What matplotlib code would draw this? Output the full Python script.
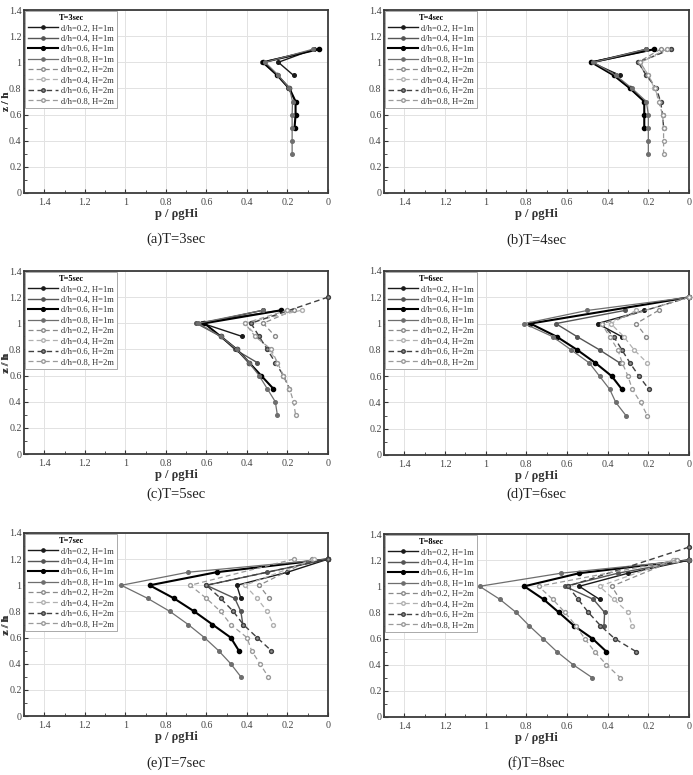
import matplotlib
matplotlib.use("Agg")
import matplotlib.pyplot as plt
from matplotlib.ticker import MultipleLocator, FuncFormatter

plt.rcParams['font.family'] = ['Liberation Serif', 'DejaVu Serif']

# ---------------- data ----------------
series_labels = ["d/h=0.2, H=1m", "d/h=0.4, H=1m", "d/h=0.6, H=1m", "d/h=0.8, H=1m",
                 "d/h=0.2, H=2m", "d/h=0.4, H=2m", "d/h=0.6, H=2m", "d/h=0.8, H=2m"]
panel_titles = ["T=3sec", "T=4sec", "T=5sec", "T=6sec", "T=7sec", "T=8sec"]
captions = ["(a)T=3sec", "(b)T=4sec", "(c)T=5sec", "(d)T=6sec", "(e)T=7sec", "(f)T=8sec"]

Z2 = [1.1, 1.0, 0.9]
Z4 = [1.1, 1.0, 0.9, 0.8, 0.7]
Z6 = [1.1, 1.0, 0.9, 0.8, 0.7, 0.6, 0.5]
Z8 = [1.1, 1.0, 0.9, 0.8, 0.7, 0.6, 0.5, 0.4, 0.3]

# T = 3 sec
T3_z = [Z2, Z4, Z6, Z8, [], [], [], []]
T3_p = [[0.07, 0.245, 0.17],
        [0.045, 0.325, 0.25, 0.195, 0.16],
        [0.045, 0.32, 0.25, 0.19, 0.16, 0.16, 0.165],
        [0.075, 0.31, 0.245, 0.19, 0.175, 0.177, 0.177, 0.177, 0.177],
        [], [], [], []]

# T = 4 sec
T4_z = [Z2, Z4, Z6, Z8, Z2, Z4, Z6, Z8]
T4_p = [[0.21, 0.48, 0.34],
        [0.17, 0.47, 0.37, 0.29, 0.22],
        [0.17, 0.48, 0.37, 0.29, 0.22, 0.22, 0.22],
        [0.21, 0.47, 0.36, 0.28, 0.21, 0.20, 0.20, 0.20, 0.20],
        [0.14, 0.25, 0.21],
        [0.09, 0.24, 0.20, 0.17, 0.14],
        [0.09, 0.25, 0.21, 0.16, 0.14, 0.13, 0.125],
        [0.11, 0.24, 0.20, 0.165, 0.15, 0.13, 0.125, 0.125, 0.125]]

# T = 5 sec
T5_z = [Z2, Z4, Z6, Z8, Z2, Z4,
        [1.2, 1.0, 0.9, 0.8, 0.7, 0.6, 0.5], Z8]
T5_p = [[0.32, 0.62, 0.425],
        [0.23, 0.65, 0.53, 0.46, 0.35],
        [0.23, 0.61, 0.53, 0.45, 0.39, 0.33, 0.27],
        [0.32, 0.64, 0.53, 0.45, 0.39, 0.34, 0.30, 0.26, 0.25],
        [0.17, 0.32, 0.26],
        [0.13, 0.41, 0.35, 0.29, 0.25],
        [0.0, 0.38, 0.34, 0.30, 0.26, 0.22, 0.19],
        [0.20, 0.41, 0.36, 0.28, 0.25, 0.22, 0.19, 0.17, 0.16]]

# T = 6 sec
T6_z = [Z2, Z4,
        [1.2, 1.0, 0.9, 0.8, 0.7, 0.6, 0.5],
        [1.2, 1.1, 1.0, 0.9, 0.8, 0.7, 0.6, 0.5, 0.4, 0.3],
        Z2, Z4,
        [1.2, 1.0, 0.9, 0.8, 0.7, 0.6, 0.5],
        [1.2, 1.0, 0.9, 0.8, 0.7, 0.6, 0.5, 0.4, 0.3]]
T6_p = [[0.22, 0.45, 0.33],
        [0.315, 0.655, 0.55, 0.44, 0.34],
        [0.0, 0.78, 0.65, 0.55, 0.46, 0.38, 0.33],
        [0.0, 0.50, 0.81, 0.67, 0.58, 0.49, 0.44, 0.39, 0.36, 0.31],
        [0.15, 0.26, 0.21],
        [0.26, 0.385, 0.32, 0.27, 0.205],
        [0.0, 0.43, 0.37, 0.33, 0.29, 0.246, 0.197],
        [0.0, 0.43, 0.39, 0.35, 0.328, 0.30, 0.279, 0.238, 0.205]]

# T = 7 sec
T7_z = [[1.2, 1.1, 1.0, 0.9],
        [1.2, 1.1, 1.0, 0.9, 0.8, 0.7],
        [1.2, 1.1, 1.0, 0.9, 0.8, 0.7, 0.6, 0.5],
        [1.2, 1.1, 1.0, 0.9, 0.8, 0.7, 0.6, 0.5, 0.4, 0.3],
        [1.2, 1.0, 0.9],
        [1.2, 1.0, 0.9, 0.8, 0.7],
        [1.2, 1.0, 0.9, 0.8, 0.7, 0.6, 0.5],
        [1.2, 1.0, 0.9, 0.8, 0.7, 0.6, 0.5, 0.4, 0.3]]
T7_p = [[0.0, 0.20, 0.45, 0.43],
        [0.0, 0.30, 0.60, 0.46, 0.43, 0.42],
        [0.0, 0.55, 0.88, 0.76, 0.66, 0.57, 0.48, 0.44],
        [0.0, 0.69, 1.02, 0.89, 0.78, 0.69, 0.61, 0.54, 0.48, 0.43],
        [0.08, 0.34, 0.29],
        [0.07, 0.41, 0.35, 0.30, 0.27],
        [0.0, 0.60, 0.53, 0.467, 0.418, 0.35, 0.28],
        [0.17, 0.68, 0.60, 0.53, 0.48, 0.40, 0.377, 0.336, 0.295]]

# T = 8 sec
T8_z = [[1.2, 1.1, 1.0, 0.9],
        [1.2, 1.1, 1.0, 0.9, 0.8, 0.7],
        [1.2, 1.1, 1.0, 0.9, 0.8, 0.7, 0.6, 0.5],
        [1.2, 1.1, 1.0, 0.9, 0.8, 0.7, 0.6, 0.5, 0.4, 0.3],
        [1.2, 1.0, 0.9],
        [1.2, 1.0, 0.9, 0.8, 0.7],
        [1.3, 1.0, 0.9, 0.8, 0.7, 0.6, 0.5],
        [1.2, 1.0, 0.9, 0.8, 0.7, 0.6, 0.5, 0.4, 0.3]]
T8_p = [[0.0, 0.30, 0.54, 0.44],
        [0.0, 0.35, 0.61, 0.47, 0.415, 0.418],
        [0.0, 0.54, 0.81, 0.715, 0.64, 0.567, 0.475, 0.406],
        [0.0, 0.63, 1.03, 0.93, 0.85, 0.787, 0.718, 0.65, 0.57, 0.475],
        [0.07, 0.38, 0.34],
        [0.08, 0.44, 0.37, 0.30, 0.28],
        [0.0, 0.595, 0.545, 0.495, 0.436, 0.366, 0.26],
        [0.06, 0.74, 0.67, 0.61, 0.557, 0.513, 0.464, 0.406, 0.338]]

panels_z = [T3_z, T4_z, T5_z, T6_z, T7_z, T8_z]
panels_p = [T3_p, T4_p, T5_p, T6_p, T7_p, T8_p]

# ---------------- styles ----------------
styles = [
    dict(color='#1a1a1a', lw=1.0, ls='-', marker='o', ms=2.6, mfc='#1a1a1a', mec='#1a1a1a'),
    dict(color='#555555', lw=1.0, ls='-', marker='o', ms=2.6, mfc='#555555', mec='#555555'),
    dict(color='#000000', lw=1.5, ls='-', marker='o', ms=3.0, mfc='#000000', mec='#000000'),
    dict(color='#6e6e6e', lw=0.9, ls='-', marker='o', ms=2.6, mfc='#6e6e6e', mec='#6e6e6e'),
    dict(color='#8a8a8a', lw=0.9, ls=(0, (4, 2.5)), marker='o', ms=2.8, mfc='white', mec='#8a8a8a'),
    dict(color='#b0b0b0', lw=0.9, ls=(0, (4, 2.5)), marker='o', ms=2.8, mfc='white', mec='#b0b0b0'),
    dict(color='#404040', lw=1.0, ls=(0, (4, 2.5)), marker='o', ms=2.8, mfc='#909090', mec='#404040'),
    dict(color='#9a9a9a', lw=0.9, ls=(0, (4, 2.5)), marker='o', ms=2.8, mfc='white', mec='#9a9a9a'),
]

W, H = 693, 775
fig = plt.figure(figsize=(W / 100, H / 100), dpi=100)

# axes rectangles in pixels: (left, top, right, bottom)
rects = [(24, 10, 328, 193), (384, 10, 689, 193),
         (24, 271, 328, 454), (384, 271, 689, 455),
         (24, 533, 328, 716), (384, 534, 689, 717)]
cap_y = [239, 240, 494, 494, 763, 763]

def fmt(v, pos):
    s = f"{v:.1f}"
    if s.endswith(".0"):
        s = s[:-2]
    return s

for i, (l, t, r, b) in enumerate(rects):
    ax = fig.add_axes([l / W, 1 - b / H, (r - l) / W, (b - t) / H])
    ax.set_xlim(1.5, 0)
    ax.set_ylim(0, 1.4)
    ax.xaxis.set_major_locator(MultipleLocator(0.2))
    ax.xaxis.set_minor_locator(MultipleLocator(0.1))
    ax.yaxis.set_major_locator(MultipleLocator(0.2))
    ax.yaxis.set_minor_locator(MultipleLocator(0.1))
    ax.xaxis.set_major_formatter(FuncFormatter(fmt))
    ax.yaxis.set_major_formatter(FuncFormatter(fmt))
    ax.grid(True, which='major', color='#e2e2e2', lw=0.7)
    ax.set_axisbelow(True)
    ax.tick_params(which='both', direction='in', labelsize=7.2, colors='#333333',
                   labelcolor='#444444')
    ax.tick_params(axis='y', pad=1.8)
    ax.tick_params(which='major', length=3, width=0.8)
    ax.tick_params(which='minor', length=2, width=0.6)
    for sp in ax.spines.values():
        sp.set_color('#3a3a3a')
        sp.set_linewidth(1.3)
    handles = []
    for k in range(8):
        h, = ax.plot(panels_p[i][k], panels_z[i][k], label=series_labels[k],
                     clip_on=False, zorder=3, **styles[k])
        handles.append(h)
    leg = ax.legend(handles=handles, loc='upper left', title=panel_titles[i],
                    fontsize=6.2, title_fontproperties={'weight': 'bold', 'size': 6},
                    frameon=True, fancybox=False, edgecolor='#aaaaaa',
                    facecolor='white', framealpha=1, borderaxespad=0.15,
                    handlelength=3.5, handletextpad=0.4, labelspacing=0.28,
                    borderpad=0.3, markerscale=0.9)
    leg.get_frame().set_linewidth(0.7)
    for txt in leg.get_texts():
        txt.set_color('#333333')
    ax.set_xlabel("p / ρgHi", fontsize=9, fontweight='bold', labelpad=1, color='#333333')
    ax.set_ylabel("z / h", fontsize=7.8, fontweight='bold', color='#333333')
    ax.yaxis.set_label_coords((11 - l) / (r - l), 0.5)
    fig.text(((l + r) / 2) / W, 1 - cap_y[i] / H, captions[i], ha='center', va='center',
             fontsize=10.5, color='#222222')

fig.savefig("out.png", dpi=100)
